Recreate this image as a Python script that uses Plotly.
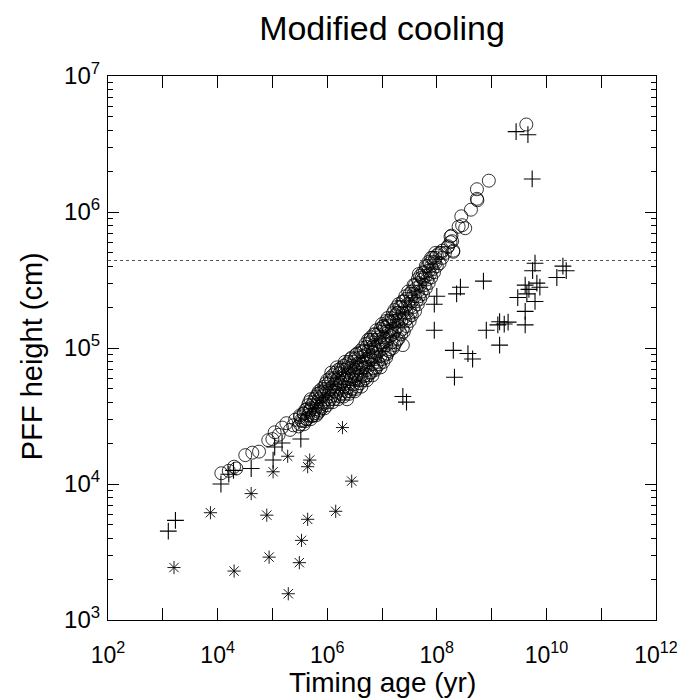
import plotly.graph_objects as go

# ---- data ----
circle_age = [
    1.17e4, 1.6e4, 2.0e4, 2.2e4, 3.2e4, 4.3e4, 5.7e4, 8.4e4, 1.0e5, 1.1e5, 1.3e5,
    1.5e5, 1.8e5, 2.1e5, 2.4e5, 2.6e5, 3.0e5, 3.2e5, 3.7e5, 4.2e5, 4.9e5, 5.5e5,
    6.5e5, 7.0e5, 8.6e5,
    3.2e5, 3.2e5, 3.5e5, 4.0e5, 4.0e5, 4.5e5, 4.5e5, 5.0e5, 5.0e5, 5.0e5,
    5.6e5, 5.6e5, 6.3e5, 6.3e5, 6.3e5, 7.1e5, 7.1e5, 7.1e5, 7.9e5, 7.9e5, 7.9e5,
    8.9e5, 8.9e5, 8.9e5, 1.0e6, 1.0e6, 1.0e6, 1.12e6, 1.12e6, 1.12e6,
    1.26e6, 1.26e6, 1.26e6, 1.41e6, 1.41e6, 1.41e6, 1.58e6, 1.58e6, 1.58e6, 1.58e6,
    1.78e6, 1.78e6, 1.78e6, 2.0e6, 2.0e6, 2.0e6, 2.0e6, 2.24e6, 2.24e6, 2.24e6,
    2.5e6, 2.5e6, 2.5e6, 2.5e6, 2.8e6, 2.8e6, 2.8e6, 2.8e6, 3.2e6, 3.2e6, 3.2e6, 3.2e6,
    3.5e6, 3.5e6, 3.5e6, 3.5e6, 4.0e6, 4.0e6, 4.0e6, 4.0e6, 4.5e6, 4.5e6, 4.5e6, 4.5e6,
    5.0e6, 5.0e6, 5.0e6, 5.0e6, 5.6e6, 5.6e6, 5.6e6, 5.6e6, 6.3e6, 6.3e6, 6.3e6, 6.3e6,
    7.1e6, 7.1e6, 7.1e6, 7.1e6, 7.9e6, 7.9e6, 7.9e6, 7.9e6, 8.9e6, 8.9e6, 8.9e6,
    1.0e7, 1.0e7, 1.0e7, 1.0e7, 1.12e7, 1.12e7, 1.12e7, 1.26e7, 1.26e7, 1.26e7, 1.26e7,
    1.41e7, 1.41e7, 1.41e7, 1.58e7, 1.58e7, 1.58e7, 1.58e7, 1.78e7, 1.78e7, 1.78e7,
    2.0e7, 2.0e7, 2.0e7, 2.0e7, 2.24e7, 2.24e7, 2.24e7, 2.5e7, 2.5e7, 2.5e7,
    2.8e7, 2.8e7, 2.8e7, 3.2e7, 3.2e7, 3.2e7, 3.5e7, 3.5e7, 3.5e7, 4.0e7, 4.0e7, 4.0e7,
    4.5e7, 4.5e7, 4.5e7, 5.0e7, 5.0e7, 5.0e7, 5.6e7, 5.6e7, 5.6e7, 6.3e7, 6.3e7, 6.3e7,
    7.1e7, 7.1e7, 7.1e7, 7.9e7, 7.9e7, 7.9e7, 8.9e7, 8.9e7, 1.0e8, 1.0e8,
    1.12e8, 1.12e8, 1.26e8, 1.26e8, 1.41e8, 1.58e8, 1.78e8, 1.78e8, 2.0e8,
    2.3e6, 2.4e7, 1.05e7, 6.0e6, 1.86e7,
    9.4e7, 1.2e8, 1.6e8, 1.85e8, 1.9e8, 2.0e8, 2.5e8, 2.8e8, 2.9e8, 3.3e8,
    4.2e8, 5.4e8, 5.5e8, 5.4e8, 8.9e8, 4.3e9,
    # interleaved second set
    3.35e5, 3.76e5, 3.76e5, 4.2e5, 4.2e5, 4.7e5, 4.7e5, 5.3e5, 5.3e5, 6.0e5, 6.0e5,
    6.7e5, 6.7e5, 6.7e5, 7.5e5, 7.5e5, 8.4e5, 8.4e5, 9.4e5, 9.4e5, 9.4e5,
    1.06e6, 1.06e6, 1.06e6, 1.19e6, 1.19e6, 1.19e6, 1.33e6, 1.33e6, 1.33e6,
    1.5e6, 1.5e6, 1.5e6, 1.68e6, 1.68e6, 1.68e6, 1.88e6, 1.88e6, 1.88e6,
    2.1e6, 2.1e6, 2.1e6, 2.1e6, 2.37e6, 2.37e6, 2.37e6, 2.66e6, 2.66e6, 2.66e6, 2.66e6,
    3.0e6, 3.0e6, 3.0e6, 3.35e6, 3.35e6, 3.35e6, 3.35e6, 3.76e6, 3.76e6, 3.76e6,
    4.2e6, 4.2e6, 4.2e6, 4.2e6, 4.7e6, 4.7e6, 4.7e6, 5.3e6, 5.3e6, 5.3e6, 5.3e6,
    6.0e6, 6.0e6, 6.0e6, 6.7e6, 6.7e6, 6.7e6, 6.7e6, 7.5e6, 7.5e6, 7.5e6, 7.5e6,
    8.4e6, 8.4e6, 8.4e6, 9.4e6, 9.4e6, 9.4e6, 9.4e6, 1.06e7, 1.06e7, 1.06e7, 1.06e7,
    1.19e7, 1.19e7, 1.19e7, 1.19e7, 1.33e7, 1.33e7, 1.33e7, 1.5e7, 1.5e7, 1.5e7,
    1.68e7, 1.68e7, 1.68e7, 1.68e7, 1.88e7, 1.88e7, 1.88e7, 2.1e7, 2.1e7, 2.1e7,
    2.37e7, 2.37e7, 2.37e7, 2.66e7, 2.66e7, 2.66e7, 3.0e7, 3.0e7, 3.0e7, 3.35e7, 3.35e7,
    3.76e7, 3.76e7, 3.76e7, 4.2e7, 4.2e7, 4.7e7, 4.7e7, 4.7e7, 5.3e7, 5.3e7, 6.0e7, 6.0e7,
    6.7e7, 6.7e7, 7.5e7, 7.5e7, 8.4e7, 8.4e7, 9.4e7, 9.4e7,
]
circle_height = [
    1.2e4, 1.25e4, 1.34e4, 1.3e4, 1.63e4, 1.7e4, 1.73e4, 2.1e4, 2.14e4, 2.4e4, 2.3e4,
    2.6e4, 2.8e4, 2.5e4, 2.7e4, 2.97e4, 2.65e4, 3.1e4, 3.3e4, 3.0e4, 3.5e4, 3.2e4,
    3.7e4, 3.4e4, 3.9e4,
    2.75e4, 3.2e4, 2.9e4, 2.9e4, 3.5e4, 3.2e4, 3.8e4, 3.0e4, 3.6e4, 4.2e4,
    3.3e4, 4.0e4, 3.2e4, 3.8e4, 4.4e4, 3.5e4, 4.2e4, 4.8e4, 3.6e4, 4.4e4, 5.0e4,
    3.6e4, 4.6e4, 5.2e4, 3.8e4, 4.8e4, 5.8e4, 4.2e4, 5.0e4, 6.0e4,
    4.0e4, 5.2e4, 6.3e4, 4.5e4, 5.5e4, 6.6e4, 4.2e4, 5.0e4, 6.0e4, 6.9e4,
    4.6e4, 5.6e4, 7.1e4, 4.4e4, 5.2e4, 6.3e4, 7.4e4, 4.8e4, 6.0e4, 7.6e4,
    4.6e4, 5.5e4, 6.6e4, 7.9e4, 5.0e4, 6.2e4, 7.4e4, 8.5e4, 4.8e4, 5.8e4, 6.9e4, 8.3e4,
    5.2e4, 6.3e4, 7.6e4, 9.1e4, 5.5e4, 6.6e4, 7.9e4, 9.5e4, 5.8e4, 7.2e4, 8.7e4, 1.0e5,
    6.0e4, 7.2e4, 8.9e4, 1.07e5, 6.3e4, 7.9e4, 9.5e4, 1.15e5, 6.6e4, 8.3e4, 1.0e5, 1.2e5,
    7.1e4, 8.7e4, 1.05e5, 1.26e5, 7.2e4, 9.1e4, 1.15e5, 1.35e5, 7.6e4, 9.5e4, 1.2e5,
    8.3e4, 1.05e5, 1.32e5, 1.5e5, 8.9e4, 1.12e5, 1.41e5, 9.1e4, 1.15e5, 1.45e5, 1.66e5,
    9.8e4, 1.23e5, 1.55e5, 1.0e5, 1.26e5, 1.58e5, 1.8e5, 1.1e5, 1.38e5, 1.74e5,
    1.17e5, 1.45e5, 1.82e5, 2.1e5, 1.26e5, 1.58e5, 2.0e5, 1.32e5, 1.66e5, 2.2e5,
    1.45e5, 1.82e5, 2.3e5, 1.58e5, 2.0e5, 2.5e5, 1.74e5, 2.2e5, 2.6e5, 1.86e5, 2.4e5, 2.9e5,
    2.1e5, 2.6e5, 3.2e5, 2.3e5, 2.9e5, 3.4e5, 2.5e5, 3.2e5, 3.6e5, 2.75e5, 3.4e5, 4.0e5,
    3.0e5, 3.7e5, 4.3e5, 3.3e5, 4.0e5, 4.6e5, 3.6e5, 4.3e5, 4.0e5, 4.8e5,
    4.2e5, 5.0e5, 4.6e5, 5.2e5, 5.0e5, 5.5e5, 6.0e5, 6.6e5, 5.2e5,
    4.2e4, 1.05e5, 1.44e5, 1.15e5, 1.8e5,
    4.6e5, 5.0e5, 5.6e5, 6.7e5, 6.1e5, 5.1e5, 7.8e5, 9.3e5, 8.0e5, 7.6e5,
    1.04e6, 1.25e6, 1.22e6, 1.47e6, 1.7e6, 4.4e6,
    # interleaved second set
    2.95e4, 2.75e4, 3.3e4, 3.0e4, 3.55e4, 3.4e4, 4.0e4, 3.15e4, 3.8e4, 3.55e4, 4.25e4,
    3.3e4, 4.0e4, 4.6e4, 3.7e4, 4.7e4, 4.0e4, 4.8e4, 4.2e4, 5.0e4, 5.5e4,
    4.0e4, 4.6e4, 5.5e4, 4.4e4, 5.8e4, 6.6e4, 4.2e4, 4.8e4, 6.0e4,
    4.7e4, 5.8e4, 7.2e4, 4.4e4, 5.4e4, 6.5e4, 4.9e4, 6.0e4, 6.9e4,
    4.6e4, 5.8e4, 6.9e4, 7.9e4, 5.1e4, 6.3e4, 7.2e4, 4.8e4, 5.9e4, 7.1e4, 8.3e4,
    5.4e4, 6.5e4, 7.9e4, 5.0e4, 6.0e4, 7.2e4, 8.9e4, 5.8e4, 7.1e4, 8.5e4,
    5.2e4, 6.3e4, 7.6e4, 9.3e4, 6.2e4, 7.9e4, 9.5e4, 5.8e4, 6.9e4, 8.3e4, 1.02e5,
    6.6e4, 8.7e4, 1.1e5, 6.3e4, 7.6e4, 9.3e4, 1.15e5, 6.9e4, 8.3e4, 1.0e5, 1.26e5,
    7.9e4, 1.05e5, 1.26e5, 7.2e4, 8.7e4, 1.1e5, 1.38e5, 7.9e4, 1.0e5, 1.2e5, 1.45e5,
    8.5e4, 1.05e5, 1.32e5, 1.58e5, 9.5e4, 1.32e5, 1.58e5, 1.1e5, 1.38e5, 1.66e5,
    1.05e5, 1.32e5, 1.58e5, 1.9e5, 1.15e5, 1.58e5, 2.0e5, 1.32e5, 1.66e5, 2.0e5,
    1.38e5, 1.82e5, 2.2e5, 1.58e5, 2.0e5, 2.4e5, 1.66e5, 2.1e5, 2.6e5, 1.82e5, 2.3e5,
    2.0e5, 2.5e5, 2.9e5, 2.2e5, 2.75e5, 2.4e5, 3.0e5, 3.5e5, 2.6e5, 3.3e5, 2.9e5, 3.6e5,
    3.2e5, 4.0e5, 3.5e5, 4.2e5, 3.8e5, 4.6e5, 4.2e5, 5.0e5,
]

plus_age = [
    1.26e3, 1.7e3, 1.15e4, 1.6e4, 1.95e4, 4.1e4, 1.03e5, 1.1e5, 1.5e5, 3.3e5,
    2.4e7, 2.8e7, 9e7, 9e7, 1.0e8, 2.0e8, 2.1e8, 2.3e8, 2.7e8, 3.7e8, 4.5e8,
    7.1e8, 8.0e8, 1.3e9, 1.4e9, 1.4e9, 1.7e9, 2.0e9, 3.0e9, 4.1e9, 4.1e9, 4.1e9,
    4.4e9, 4.8e9, 5.6e9, 6.2e9, 6.2e9, 6.7e9, 7.6e9, 1.55e10, 2.0e10, 2.3e10,
    2.8e9, 4.6e9, 5.5e9,
]
plus_height = [
    4.5e3, 5.4e3, 1.0e4, 1.18e4, 1.26e4, 1.3e4, 1.5e4, 1.87e4, 2.0e4, 2.14e4,
    4.4e4, 4.0e4, 1.35e5, 2.1e5, 2.4e5, 9.6e4, 6.1e4, 2.5e5, 2.8e5, 9.1e4, 8.3e4,
    3.1e5, 1.35e5, 1.48e5, 1.56e5, 1.05e5, 1.5e5, 1.55e5, 2.35e5, 2.9e5, 1.86e5, 1.48e5,
    2.5e5, 2.7e5, 3.7e5, 4.2e5, 2.2e5, 3.0e5, 2.8e5, 3.3e5, 4.0e5, 3.7e5,
    3.9e6, 3.7e6, 1.75e6,
]

star_age = [
    1.6e3, 7.4e3, 2.0e4, 4.1e4, 7.9e4, 8.7e4, 1.95e5, 3.1e5, 3.4e5, 4.4e5,
    1.43e6, 2.8e6, 1.9e5, 4.4e5, 4.8e5, 1.03e5, 1.9e6,
]
star_height = [
    2.43e3, 6.15e3, 2.29e3, 8.5e3, 5.9e3, 2.9e3, 1.56e3, 2.64e3, 3.85e3, 5.5e3,
    6.3e3, 1.05e4, 1.6e4, 1.34e4, 1.5e4, 1.23e4, 2.6e4,
]

threshold_height = 4.4e5

x_tickvals = [1e2, 1e3, 1e4, 1e5, 1e6, 1e7, 1e8, 1e9, 1e10, 1e11, 1e12]
x_ticktext = ["10<sup>2</sup>", "", "10<sup>4</sup>", "", "10<sup>6</sup>", "",
              "10<sup>8</sup>", "", "10<sup>10</sup>", "", "10<sup>12</sup>"]
y_tickvals = [1e3, 1e4, 1e5, 1e6, 1e7]
y_ticktext = ["10<sup>3</sup>", "10<sup>4</sup>", "10<sup>5</sup>", "10<sup>6</sup>", "10<sup>7</sup>"]
y_minor_tickvals = [m * 10 ** e for e in range(3, 7) for m in range(2, 10)]

FONT = "Liberation Sans, Arial, sans-serif"

fig = go.Figure()
fig.add_trace(go.Scatter(
    x=circle_age, y=circle_height, mode="markers",
    marker=dict(symbol="circle-open", size=13, color="black", line=dict(width=0.8)),
    showlegend=False))
fig.add_trace(go.Scatter(
    x=plus_age, y=plus_height, mode="markers",
    marker=dict(symbol="cross-thin-open", size=12, color="black", line=dict(width=1.1, color="black")),
    showlegend=False))
fig.add_trace(go.Scatter(
    x=star_age, y=star_height, mode="markers",
    marker=dict(symbol="asterisk-open", size=11, color="black", line=dict(width=0.9, color="black")),
    showlegend=False))

fig.add_shape(type="line", xref="paper", x0=0, x1=1, yref="y",
              y0=threshold_height, y1=threshold_height,
              line=dict(color="#555555", width=1, dash="dot"))

axis_common = dict(
    showgrid=False, zeroline=False, showline=True, linecolor="black", linewidth=1.2,
    mirror="allticks", ticks="inside", tickcolor="black", tickwidth=1, automargin=False,
)

fig.update_xaxes(
    type="log", range=[2, 12], tickmode="array", tickvals=x_tickvals, ticktext=x_ticktext,
    ticklen=12, ticklabelstandoff=14,
    tickfont=dict(family=FONT, size=23, color="black"),
    **axis_common)
fig.update_yaxes(
    type="log", range=[3, 7], tickmode="array", tickvals=y_tickvals, ticktext=y_ticktext,
    ticklen=11, ticklabelstandoff=2,
    tickfont=dict(family=FONT, size=24, color="black"),
    minor=dict(ticks="inside", ticklen=5, tickcolor="black", tickmode="array",
               tickvals=y_minor_tickvals, showgrid=False),
    **axis_common)

# axis titles as annotations for exact placement
fig.add_annotation(text="Timing age (yr)", xref="paper", yref="paper", x=0.5, y=-62 / 544,
                   xanchor="center", yanchor="middle", showarrow=False,
                   font=dict(family=FONT, size=28, color="black"))
fig.add_annotation(text="PFF height (cm)", xref="paper", yref="paper", x=-76 / 548, y=0.485,
                   xanchor="center", yanchor="middle", showarrow=False, textangle=-90,
                   font=dict(family=FONT, size=29, color="black"))

fig.update_layout(
    width=681, height=700,
    margin=dict(l=108, r=25, t=76, b=80, autoexpand=False),
    paper_bgcolor="white", plot_bgcolor="white",
    title=dict(text="Modified cooling", x=0.5, xref="paper", y=1 - 28 / 700, yref="container",
               yanchor="middle", font=dict(family=FONT, size=34, color="black"), automargin=False),
)

# remove the default 8px page margin so the figure sits at the window's top-left corner
fig.write_html("out.html", config={"displayModeBar": False},
               post_script="document.body.style.margin='0';document.body.style.overflow='hidden';")
